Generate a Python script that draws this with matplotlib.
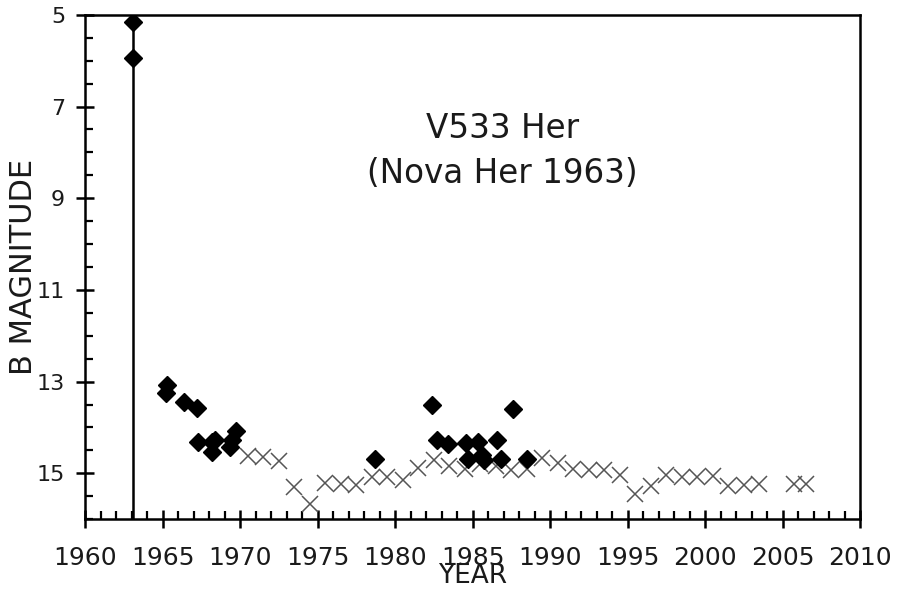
import matplotlib
matplotlib.use("Agg")
import matplotlib.pyplot as plt
from matplotlib.ticker import MultipleLocator

# photographic / visual B magnitudes (filled diamonds)
obs_year = [1963.1, 1963.1, 1965.3, 1965.2, 1966.4, 1967.2, 1967.3, 1968.2,
            1968.2, 1968.4, 1969.35, 1969.45, 1969.7,
            1978.7, 1982.4, 1982.7, 1983.4, 1984.55, 1985.35, 1984.7, 1985.6,
            1985.7, 1986.55, 1986.8, 1987.6, 1988.5]
obs_mag = [5.15, 5.95, 13.08, 13.25, 13.44, 13.57, 14.32, 14.32,
           14.53, 14.28, 14.43, 14.28, 14.08,
           14.69, 13.52, 14.28, 14.37, 14.35, 14.32, 14.69, 14.61,
           14.72, 14.27, 14.69, 13.59, 14.69]

# yearly means (crosses)
mean_year = [1970.5, 1971.5, 1972.5, 1973.5, 1974.5, 1975.5, 1976.5, 1977.5,
             1978.5, 1979.5, 1980.5, 1981.5, 1982.5, 1983.5, 1984.5, 1985.5,
             1986.5, 1987.5, 1988.5, 1989.5, 1990.5, 1991.5, 1992.5, 1993.5,
             1994.5, 1995.5, 1996.5, 1997.5, 1998.5, 1999.5, 2000.5, 2001.5,
             2002.5, 2003.5, 2005.7, 2006.5]
mean_mag = [14.63, 14.64, 14.74, 15.3, 15.66, 15.21, 15.24, 15.25,
            15.08, 15.08, 15.14, 14.88, 14.72, 14.85, 14.9, 14.8,
            14.85, 14.92, 14.9, 14.66, 14.77, 14.9, 14.92, 14.93,
            15.03, 15.46, 15.28, 15.04, 15.09, 15.08, 15.06, 15.28,
            15.25, 15.23, 15.24, 15.24]

outburst_year = 1963.1

fig = plt.figure(figsize=(8.97, 5.96), dpi=100)
ax = fig.add_axes([0.095, 0.129, 0.864, 0.846])

ax.axvline(outburst_year, color="black", lw=1.8, zorder=1)
ax.plot(mean_year, mean_mag, linestyle="none", marker="x", ms=11, mew=1.1,
        color="#555555", zorder=2)
ax.plot(obs_year, obs_mag, linestyle="none", marker="D", ms=9.5,
        color="black", zorder=3)

ax.set_xlim(1960, 2010)
ax.set_ylim(16, 5)
ax.xaxis.set_major_locator(MultipleLocator(5))
ax.xaxis.set_minor_locator(MultipleLocator(1))
ax.set_yticks([5, 7, 9, 11, 13, 15])
ax.yaxis.set_minor_locator(MultipleLocator(0.5))

for s in ax.spines.values():
    s.set_linewidth(1.8)
ax.tick_params(which="major", direction="inout", length=13, width=1.8,
               colors="#1a1a1a")
ax.tick_params(which="minor", direction="in", length=6, width=1.6)
ax.tick_params(axis="x", which="major", labelsize=18, pad=13)
ax.tick_params(axis="y", which="major", labelsize=16, pad=8)
ax.tick_params(which="both", color="black")

ax.set_xlabel("YEAR", fontsize=19, labelpad=-5, color="#1a1a1a")
ax.set_ylabel("B MAGNITUDE", fontsize=22, labelpad=-1, color="#1a1a1a")

ax.text(0.538, 0.73, "V533 Her\n(Nova Her 1963)", transform=ax.transAxes,
        ha="center", va="center", fontsize=23.5, linespacing=1.45,
        color="#1a1a1a")

fig.savefig("out.png", dpi=100)
